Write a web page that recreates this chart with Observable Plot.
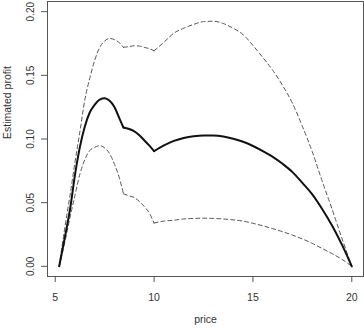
<!DOCTYPE html>
<html>
<head>
<meta charset="utf-8">
<script src="https://cdn.jsdelivr.net/npm/d3@7"></script>
<script src="https://cdn.jsdelivr.net/npm/@observablehq/plot@0.6"></script>
<style>
  html, body { margin: 0; padding: 0; background: #fff; }
  svg { display: block; overflow: visible; }
</style>
</head>
<body>
<div id="chart"></div>
<script>
const price = [5.2, 5.5, 5.75, 6.0, 6.25, 6.5, 6.75, 7.0, 7.25, 7.5, 7.75, 8.0, 8.25, 8.45, 8.7, 9.0, 9.25, 9.5, 9.75, 10.0,
  10.5, 11, 11.5, 12, 12.5, 13, 13.5, 14, 14.5, 15, 15.5, 16, 16.5, 17, 17.5, 18, 18.5, 19, 19.5, 20];

const profit = [0, 0.024, 0.045, 0.072, 0.094, 0.110, 0.121, 0.127, 0.131, 0.132, 0.130, 0.125, 0.116, 0.109, 0.108, 0.106, 0.103, 0.099, 0.095, 0.0905,
  0.095, 0.0985, 0.1008, 0.1022, 0.1028, 0.1027, 0.1019, 0.1002, 0.0978, 0.0945, 0.0905, 0.0860, 0.0805, 0.0740, 0.0655, 0.0565, 0.0450, 0.0320, 0.0170, 0];

const upper = [0, 0.032, 0.056, 0.082, 0.106, 0.131, 0.148, 0.162, 0.172, 0.177, 0.179, 0.178, 0.1755, 0.172, 0.1725, 0.1732, 0.173, 0.172, 0.171, 0.1693,
  0.176, 0.1831, 0.1870, 0.1900, 0.1922, 0.1925, 0.1907, 0.1870, 0.1820, 0.1735, 0.1640, 0.1540, 0.1420, 0.1280, 0.1100, 0.0900, 0.0670, 0.0450, 0.0220, 0];

const lower = [0, 0.020, 0.0386, 0.056, 0.0726, 0.084, 0.091, 0.0935, 0.0948, 0.093, 0.0885, 0.080, 0.069, 0.057, 0.0555, 0.054, 0.051, 0.047, 0.042, 0.0340,
  0.0355, 0.0362, 0.0372, 0.0376, 0.0378, 0.0376, 0.0372, 0.0365, 0.0355, 0.0338, 0.0318, 0.0296, 0.0272, 0.0245, 0.0215, 0.0180, 0.0140, 0.0100, 0.0055, 0];

// price points where the curves have kinks (piecewise segments)
const kinks = [8.45, 10.0];

const xTicks = [5, 10, 15, 20];
const yTicks = [0, 0.05, 0.10, 0.15, 0.20];
const xLabel = "price";
const yLabel = "Estimated profit";

// split a series into smooth pieces that share their end points at the kinks
function pieces(vals) {
  const bounds = [price[0], ...kinks, price[price.length - 1]];
  const out = [];
  for (let s = 0; s < bounds.length - 1; s++) {
    price.forEach((p, i) => {
      if (p >= bounds[s] && p <= bounds[s + 1]) out.push({price: p, value: vals[i], seg: s});
    });
  }
  return out;
}

const chart = Plot.plot({
  width: 364,
  height: 329,
  marginLeft: 47,
  marginRight: 1,
  marginTop: 1,
  marginBottom: 53,
  style: {fontFamily: "'Liberation Sans', Arial, sans-serif", fontSize: "10.5px", color: "#333", background: "#fff"},
  x: {domain: [4.608, 20.592]},
  y: {domain: [-0.008, 0.208]},
  marks: [
    Plot.frame({stroke: "#555", strokeWidth: 1}),
    Plot.axisX({ticks: xTicks, tickSize: 6, tickPadding: 11, label: null, tickFormat: d => String(d), stroke: "#555"}),
    Plot.axisY({ticks: yTicks, tickSize: 6, label: null, tickFormat: () => "", stroke: "#555"}),
    Plot.text(yTicks, {y: d => d, text: d => d.toFixed(2), frameAnchor: "left", dx: -17, rotate: -90, textAnchor: "middle", fontSize: 10, fill: "#333"}),
    Plot.text([xLabel], {text: d => d, frameAnchor: "bottom", dy: 46.7, fill: "#333"}),
    Plot.text([yLabel], {text: d => d, frameAnchor: "left", dx: -40, rotate: -90, fill: "#333"}),
    Plot.line(pieces(upper), {x: "price", y: "value", z: "seg", curve: "monotone-x", stroke: "#555", strokeWidth: 1, strokeDasharray: "4 3"}),
    Plot.line(pieces(lower), {x: "price", y: "value", z: "seg", curve: "monotone-x", stroke: "#555", strokeWidth: 1, strokeDasharray: "4 3"}),
    Plot.line(pieces(profit), {x: "price", y: "value", z: "seg", curve: "monotone-x", stroke: "#111", strokeWidth: 2})
  ]
});
document.getElementById("chart").appendChild(chart);
</script>
</body>
</html>
